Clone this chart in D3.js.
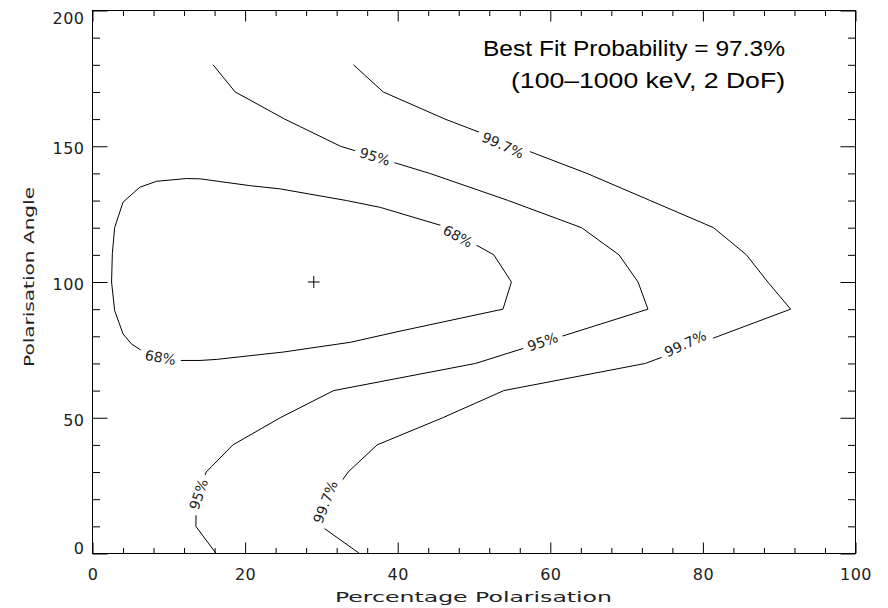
<!DOCTYPE html>
<html>
<head>
<meta charset="utf-8">
<script src="https://cdn.jsdelivr.net/npm/d3@7"></script>
<style>
  html, body { margin: 0; padding: 0; background: #fff; }
  svg { display: block; }
  .tick text { font-family: "DejaVu Sans", sans-serif; fill: #222; }
</style>
</head>
<body>
<svg id="chart" width="888" height="608"></svg>
<script>
// ---------------- data ----------------
const xTicks = [0, 20, 40, 60, 80, 100];
const yTicks = [0, 50, 100, 150, 200];
const xMinor = [4, 8, 12, 16, 24, 28, 32, 36, 44, 48, 52, 56, 64, 68, 72, 76, 84, 88, 92, 96];
const yMinor = [10, 20, 30, 40, 60, 70, 80, 90, 110, 120, 130, 140, 160, 170, 180, 190];

const contour68 = [
  [54.9, 100], [52.6, 110], [45.7, 120.8], [37.7, 127.5], [33.3, 130], [24.6, 134.3],
  [20.6, 135.5], [14.1, 138], [12.3, 138.1], [8.4, 137.1], [6.2, 134.9], [4.0, 129.4],
  [2.9, 120], [2.6, 110.4], [2.5, 100], [2.9, 89.5], [4.0, 80.9], [5.1, 77.2], [6.4, 74.8],
  [9.0, 72.0], [11.5, 71.1], [14.1, 71.1], [16.3, 71.5], [25.0, 74.2], [33.8, 77.8],
  [40.3, 81.9], [53.8, 90]
];
const contour95 = [
  [15.8, 180], [18.7, 170], [25.2, 160], [32.5, 150], [44.2, 140], [54.5, 130], [64.1, 120],
  [69.0, 110], [71.5, 100], [72.8, 90], [61.5, 80], [50.2, 70], [31.6, 60], [24.6, 50],
  [18.4, 40], [14.9, 30], [13.6, 20], [13.55, 10], [16.2, 0]
];
const contour997 = [
  [34.2, 180], [38.1, 170], [46.2, 160], [55.5, 150], [64.8, 140], [73.1, 130], [81.4, 120],
  [85.7, 110], [88.5, 100], [91.5, 90], [82.0, 80], [72.45, 70], [53.9, 60], [45.9, 50],
  [37.3, 40], [33.5, 30], [31.0, 20], [30.0, 10], [35.0, 0]
];
const bestFit = [29, 100];

// contour labels: text, data x, data y, angle (deg)
const labelText = ["95%", "95%", "95%", "99.7%", "99.7%", "99.7%", "68%", "68%"];
const labelX    = [37.0, 59.0, 13.9, 53.8, 77.7, 30.5, 47.9, 8.9];
const labelY    = [146.2, 78.0, 21.8, 150.4, 77.3, 19.0, 116.9, 72.2];
const labelRot  = [17, -19, -71, 24, -25, -69, 28, 10];

const title1 = "Best Fit Probability = 97.3%";
const title2 = "(100\u20131000 keV, 2 DoF)";
const xTitle = "Percentage Polarisation";
const yTitle = "Polarisation Angle";

// ---------------- chart ----------------
const svg = d3.select("#chart");
const x = d3.scaleLinear().domain([0, 100]).range([92.5, 855.5]);
const y = d3.scaleLinear().domain([0, 200]).range([553.5, 10.5]);

const tickFont = "16px";

function styleAxis(g) {
  g.select(".domain").remove();
  g.selectAll(".tick line").attr("stroke", "#000").attr("stroke-width", 1);
}

// bottom axis
svg.append("g").attr("transform", `translate(0,${y(0)})`)
  .call(d3.axisBottom(x).tickValues(xTicks).tickSize(-11).tickFormat(d3.format("d")))
  .call(styleAxis)
  .call(g => g.selectAll("text").attr("y", 26.5).attr("dy", null)
     .style("font-size", tickFont).attr("letter-spacing", "0.5"));
svg.append("g").attr("transform", `translate(0,${y(0)})`)
  .call(d3.axisBottom(x).tickValues(xMinor).tickSize(-5.5).tickFormat(""))
  .call(styleAxis);
// top axis
svg.append("g").attr("transform", `translate(0,${y(200)})`)
  .call(d3.axisTop(x).tickValues(xTicks).tickSize(-11).tickFormat(""))
  .call(styleAxis);
svg.append("g").attr("transform", `translate(0,${y(200)})`)
  .call(d3.axisTop(x).tickValues(xMinor).tickSize(-5.5).tickFormat(""))
  .call(styleAxis);
// left axis
svg.append("g").attr("transform", `translate(${x(0)},0)`)
  .call(d3.axisLeft(y).tickValues(yTicks).tickSize(-15).tickFormat(d3.format("d")))
  .call(styleAxis)
  .call(g => g.selectAll("text")
     .attr("x", -8)
     .attr("dy", null)
     .attr("y", d => d === 200 ? 13 : (d === 0 ? 0 : 7.5))
     .style("font-size", tickFont).attr("letter-spacing", "0.5"));
svg.append("g").attr("transform", `translate(${x(0)},0)`)
  .call(d3.axisLeft(y).tickValues(yMinor).tickSize(-7.5).tickFormat(""))
  .call(styleAxis);
// right axis
svg.append("g").attr("transform", `translate(${x(100)},0)`)
  .call(d3.axisRight(y).tickValues(yTicks).tickSize(-15).tickFormat(""))
  .call(styleAxis);
svg.append("g").attr("transform", `translate(${x(100)},0)`)
  .call(d3.axisRight(y).tickValues(yMinor).tickSize(-7.5).tickFormat(""))
  .call(styleAxis);

// frame
svg.append("rect")
  .attr("x", x(0)).attr("y", y(200))
  .attr("width", x(100) - x(0)).attr("height", y(0) - y(200))
  .attr("fill", "none").attr("stroke", "#000").attr("stroke-width", 1);

// axis titles
svg.append("text")
  .attr("x", (x(0) + x(100)) / 2 - 0.5).attr("y", 602)
  .attr("text-anchor", "middle")
  .attr("font-family", "DejaVu Sans, sans-serif").attr("font-size", 14.5)
  .attr("fill", "#222")
  .attr("textLength", 277).attr("lengthAdjust", "spacingAndGlyphs")
  .text(xTitle);
svg.append("text")
  .attr("transform", `translate(34,277) rotate(-90)`)
  .attr("text-anchor", "middle")
  .attr("font-family", "DejaVu Sans, sans-serif").attr("font-size", 14.5)
  .attr("fill", "#222")
  .attr("textLength", 180).attr("lengthAdjust", "spacingAndGlyphs")
  .text(yTitle);

// label gap mask
const defs = svg.append("defs");
const mask = defs.append("mask").attr("id", "gapmask").attr("maskUnits", "userSpaceOnUse")
  .attr("x", 0).attr("y", 0).attr("width", 888).attr("height", 608);
mask.append("rect").attr("x", 0).attr("y", 0).attr("width", 888).attr("height", 608).attr("fill", "#fff");

const labelFont = 14;
const labelData = labelText.map((t, i) => ({ t, x: labelX[i], y: labelY[i], r: labelRot[i] }));
const tmp = svg.append("text").attr("font-family", "DejaVu Sans, sans-serif").attr("font-size", labelFont);
labelData.forEach(d => { tmp.text(d.t); d.w = tmp.node().getComputedTextLength(); });
tmp.remove();

mask.selectAll("rect.gap").data(labelData).join("rect")
  .attr("class", "gap")
  .attr("transform", d => `translate(${x(d.x)},${y(d.y)}) rotate(${d.r})`)
  .attr("x", d => -d.w / 2 - 5).attr("y", -9)
  .attr("width", d => d.w + 10).attr("height", 18)
  .attr("fill", "#000");

const line = d3.line().x(d => x(d[0])).y(d => y(d[1]));
const lineClosed = d3.line().x(d => x(d[0])).y(d => y(d[1])).curve(d3.curveLinearClosed);

const cg = svg.append("g").attr("mask", "url(#gapmask)")
  .attr("fill", "none").attr("stroke", "#000").attr("stroke-width", 1);
cg.append("path").attr("d", lineClosed(contour68));
cg.append("path").attr("d", line(contour95));
cg.append("path").attr("d", line(contour997));

// labels
svg.selectAll("text.clabel").data(labelData).join("text")
  .attr("class", "clabel")
  .attr("transform", d => `translate(${x(d.x)},${y(d.y)}) rotate(${d.r})`)
  .attr("text-anchor", "middle").attr("dy", "0.36em")
  .attr("font-family", "DejaVu Sans, sans-serif").attr("font-size", labelFont)
  .attr("fill", "#222")
  .text(d => d.t);

// best fit cross
const cx = x(bestFit[0]), cy = y(bestFit[1]);
svg.append("path")
  .attr("d", `M${cx - 6},${cy}H${cx + 6}M${cx},${cy - 6}V${cy + 6}`)
  .attr("stroke", "#000").attr("stroke-width", 1).attr("fill", "none");

// annotation
svg.append("text").attr("x", 785).attr("y", 55.5)
  .attr("text-anchor", "end")
  .attr("font-family", "Liberation Sans, Arial, sans-serif").attr("font-size", 22)
  .attr("fill", "#000")
  .attr("textLength", 302).attr("lengthAdjust", "spacingAndGlyphs")
  .text(title1);
svg.append("text").attr("x", 785).attr("y", 87.5)
  .attr("text-anchor", "end")
  .attr("font-family", "Liberation Sans, Arial, sans-serif").attr("font-size", 22)
  .attr("fill", "#000")
  .attr("textLength", 274).attr("lengthAdjust", "spacingAndGlyphs")
  .text(title2);
</script>
</body>
</html>
